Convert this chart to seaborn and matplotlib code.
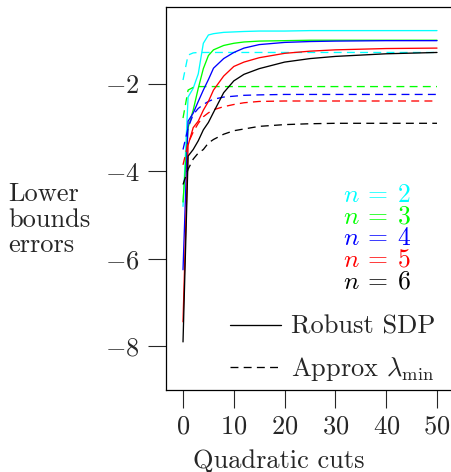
import numpy as np
import pandas as pd
import matplotlib.pyplot as plt
from matplotlib.lines import Line2D
import seaborn as sns

# Data
cuts = [0, 1, 2, 3, 4, 5, 6, 8, 10, 12, 15, 20, 25, 30, 40, 50]
n_values = [2, 3, 4, 5, 6]
colors = ["#00ffff", "#00ff00", "#0000ff", "#ff0000", "#000000"]

robust_n2 = [-4.8, -2.3, -2.1, -1.77, -1.07, -0.88, -0.85, -0.82, -0.81, -0.80, -0.79, -0.79, -0.78, -0.78, -0.78, -0.78]
robust_n3 = [-4.7, -3.0, -2.6, -2.1, -1.65, -1.35, -1.22, -1.12, -1.07, -1.04, -1.02, -1.01, -1.0, -1.0, -1.0, -1.0]
robust_n4 = [-6.25, -2.85, -2.67, -2.4, -2.14, -1.9, -1.64, -1.42, -1.28, -1.18, -1.1, -1.05, -1.03, -1.02, -1.01, -1.01]
robust_n5 = [-7.44, -3.4, -3.0, -2.85, -2.6, -2.4, -2.14, -1.82, -1.6, -1.5, -1.4, -1.3, -1.25, -1.22, -1.19, -1.18]
robust_n6 = [-7.9, -3.65, -3.5, -3.3, -3.05, -2.88, -2.65, -2.2, -1.93, -1.78, -1.65, -1.5, -1.42, -1.37, -1.31, -1.28]

approx_n2 = [-1.91, -1.34, -1.29, -1.28, -1.28, -1.28, -1.28, -1.28, -1.28, -1.28, -1.28, -1.28, -1.28, -1.28, -1.28, -1.28]
approx_n3 = [-2.78, -2.14, -2.08, -2.06, -2.06, -2.06, -2.06, -2.06, -2.06, -2.06, -2.06, -2.06, -2.06, -2.06, -2.06, -2.06]
approx_n4 = [-3.5, -3.0, -2.7, -2.56, -2.47, -2.4, -2.35, -2.3, -2.28, -2.26, -2.25, -2.24, -2.24, -2.24, -2.24, -2.24]
approx_n5 = [-3.85, -3.36, -3.1, -2.9, -2.75, -2.66, -2.59, -2.52, -2.47, -2.43, -2.4, -2.39, -2.39, -2.39, -2.39, -2.39]
approx_n6 = [-4.3, -3.95, -3.72, -3.58, -3.5, -3.35, -3.27, -3.15, -3.07, -3.03, -2.97, -2.93, -2.91, -2.9, -2.9, -2.9]

robust = [robust_n2, robust_n3, robust_n4, robust_n5, robust_n6]
approx = [approx_n2, approx_n3, approx_n4, approx_n5, approx_n6]

rows = []
for n, r, a in zip(n_values, robust, approx):
    for c, rv, av in zip(cuts, r, a):
        rows.append({"cuts": c, "error": av, "n": n, "method": "Approx"})
        rows.append({"cuts": c, "error": rv, "n": n, "method": "Robust"})
df = pd.DataFrame(rows)

sns.set_style("ticks")
plt.rcParams["font.family"] = "serif"
plt.rcParams["font.serif"] = ["cmr10", "DejaVu Serif"]
plt.rcParams["mathtext.fontset"] = "cm"
plt.rcParams["axes.formatter.use_mathtext"] = True
plt.rcParams["axes.unicode_minus"] = True

fs = 19

fig = plt.figure(figsize=(4.51, 4.72), dpi=100)
ax = fig.add_axes([166 / 451, 82 / 472, 287 / 451, 383 / 472])

sns.lineplot(data=df, x="cuts", y="error", hue="n", style="method",
             palette=dict(zip(n_values, colors)),
             dashes={"Robust": "", "Approx": (6, 4)},
             style_order=["Robust", "Approx"],
             linewidth=0.95, legend=False, ax=ax, sort=False)

ax.set_xlim(-3.35, 53.15)
ax.set_ylim(-9.0, -0.24)
ax.set_xticks([0, 10, 20, 30, 40, 50])
ax.set_yticks([-8, -6, -4, -2])
ax.tick_params(direction="out", length=13, width=0.8, labelsize=fs)
ax.tick_params(axis="x", pad=5)
ax.tick_params(axis="y", pad=6)
for s in ax.spines.values():
    s.set_linewidth(0.9)
    s.set_color("black")
ax.set_xlabel("Quadratic cuts", fontsize=fs)
ax.xaxis.set_label_coords((279 - 166) / 287, -0.155)
ax.set_ylabel("")

fig.text(8 / 451, 1 - 220 / 472, "Lower\nbounds\nerrors", fontsize=fs,
         ha="left", va="center", linespacing=1.1)

# colored n labels
label_y = [-4.54, -5.04, -5.52, -6.02, -6.52]
for n, col, yv in zip(n_values, colors, label_y):
    ax.text(31.5, yv, r"$n\:=\:%d$" % n, color=col, fontsize=18.5,
            ha="left", va="center")

handles = [Line2D([], [], color="black", lw=0.95, linestyle="-"),
           Line2D([], [], color="black", lw=0.95, linestyle=(0, (6, 4)))]
ax.legend(handles, ["Robust SDP", r"Approx $\lambda_{\min}$"],
          frameon=False, fontsize=fs, handlelength=1.9, handletextpad=0.38,
          labelspacing=0.63, loc="lower right",
          bbox_to_anchor=(1.02, -0.045))

plt.savefig("out.png", dpi=100)
